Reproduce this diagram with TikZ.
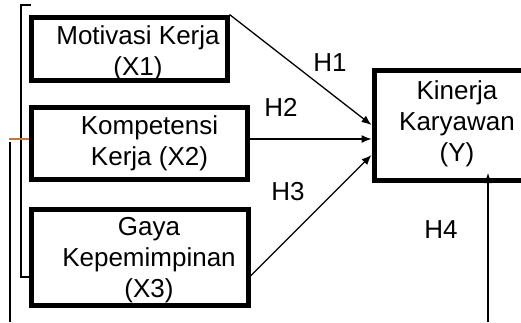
\documentclass[tikz,border=0pt]{standalone}
\usepackage{fontspec}
\setmainfont{Liberation Sans}
\usetikzlibrary{arrows.meta}
\definecolor{tickbrown}{RGB}{192,118,64}
\begin{document}
\begin{tikzpicture}[x=1bp,y=-1bp,
  varbox/.style={draw, line width=5bp, inner sep=0pt, rectangle},
  txt/.style={inner sep=0pt, align=center, font=\fontsize{26bp}{31bp}\selectfont},
  hlabel/.style={inner sep=0pt, font=\fontsize{26bp}{31bp}\selectfont},
  arr/.style={line width=1.3bp, -{Latex[length=10bp,width=8bp]}},
  thinline/.style={line width=1.3bp}]
  \useasboundingbox (0,0) rectangle (521,322);
  \clip (0,0) rectangle (521,322);

  % variable boxes
  \node[varbox, minimum width=195bp, minimum height=63bp] (x1) at (129.5,48.5) {};
  \node[varbox, minimum width=215bp, minimum height=72bp] (x2) at (139.5,143) {};
  \node[varbox, minimum width=216bp, minimum height=96bp] (x3) at (140,257) {};
  \node[varbox, minimum width=171bp, minimum height=110bp] (y) at (459.5,125) {};

  % box texts
  \node[txt] (tx1) at (138,52.8) {Motivasi Kerja\\(X1)};
  \node[txt] (tx2) at (149.5,143.5) {Kompetensi\\Kerja (X2)};
  \node[txt] (tx3) at (149,260.3) {Gaya\\Kepemimpinan\\(X3)};
  \node[txt] (ty) at (457,123.3) {Kinerja\\Karyawan\\(Y)};

  % hypothesis paths
  \draw[arr] (x1.north east) -- (y.west);
  \draw[arr] (x2.east |- 0,139) -- (y.west |- 0,139);
  \draw[arr] (x3.east |- 0,276) -- (y.west |- 0,155);
  \coordinate (h4s) at (488,322);
  \coordinate (h4e) at (488,173);
  \draw[arr] (h4s) -- (h4e);

  \node[hlabel] (h1) at (330,63) {H1};
  \node[hlabel] (h2) at (281,107) {H2};
  \node[hlabel] (h3) at (288,192) {H3};
  \node[hlabel] (h4) at (441,230) {H4};

  % grouping bracket and simultaneous line
  \draw[thinline] (31,5) -- (21,5) -- (21,277) -- (x3.west |- 0,277);
  \coordinate (lb) at (10,322);
  \draw[thinline] (10,142) -- (lb);
  \draw[line width=1.6bp, tickbrown] (9,139) -- (x2.west |- 0,139);
\end{tikzpicture}
\end{document}
